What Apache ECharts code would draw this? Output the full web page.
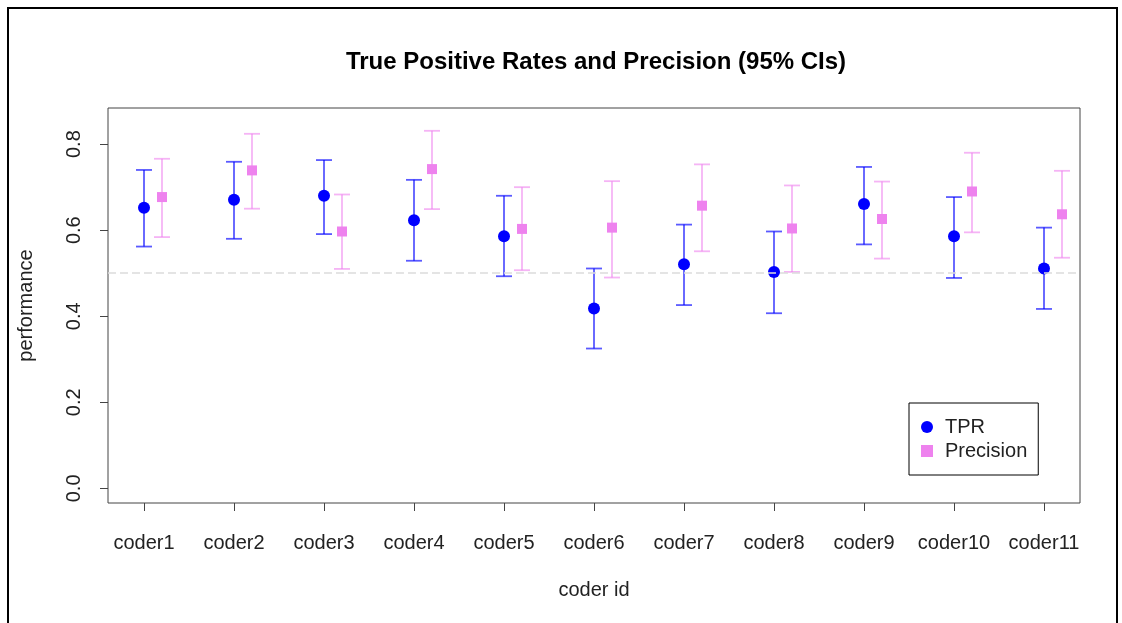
<!DOCTYPE html>
<html>
<head>
<meta charset="utf-8">
<title>True Positive Rates and Precision</title>
<script src="https://cdn.jsdelivr.net/npm/echarts@6/dist/echarts.min.js"></script>
<style>
  html, body { margin: 0; padding: 0; background: #fff; }
  #chart { width: 1122px; height: 623px; }
</style>
</head>
<body>
<div id="chart"></div>
<script>
// coder ids on the x axis
var categories = ['coder1', 'coder2', 'coder3', 'coder4', 'coder5', 'coder6',
  'coder7', 'coder8', 'coder9', 'coder10', 'coder11'];

// true positive rate with 95% CI
var tprMean = [0.652, 0.671, 0.680, 0.623, 0.586, 0.418, 0.521, 0.503, 0.661, 0.586, 0.511];
var tprLow  = [0.562, 0.580, 0.591, 0.529, 0.493, 0.325, 0.426, 0.407, 0.567, 0.489, 0.417];
var tprHigh = [0.740, 0.759, 0.763, 0.717, 0.680, 0.511, 0.613, 0.597, 0.747, 0.677, 0.606];

// precision with 95% CI
var precMean = [0.677, 0.739, 0.597, 0.742, 0.603, 0.606, 0.657, 0.604, 0.626, 0.690, 0.637];
var precLow  = [0.584, 0.650, 0.510, 0.649, 0.507, 0.490, 0.551, 0.503, 0.534, 0.595, 0.536];
var precHigh = [0.766, 0.824, 0.683, 0.831, 0.700, 0.714, 0.753, 0.704, 0.713, 0.780, 0.738];

var yTicks = [0, 0.2, 0.4, 0.6, 0.8];
var refLine = 0.5;

var FONT = '"Liberation Sans", Arial, sans-serif';
var precShift = 0.2; // precision drawn a bit right of the coder position

var xTicks = categories.map(function (c, i) { return i + 1; });

function points(mean, shift) {
  return mean.map(function (v, i) { return [i + 1 + shift, v]; });
}
function bars(low, high, shift) {
  return low.map(function (v, i) { return [i + 1 + shift, v, high[i]]; });
}

// error bar: vertical line plus two caps
function renderBar(color) {
  return function (params, api) {
    var lo = api.coord([api.value(0), api.value(1)]);
    var hi = api.coord([api.value(0), api.value(2)]);
    var w = 8;
    var style = { stroke: color, lineWidth: 1.8 };
    return {
      type: 'group',
      children: [
        { type: 'line', shape: { x1: lo[0], y1: lo[1], x2: hi[0], y2: hi[1] }, style: style },
        { type: 'line', shape: { x1: lo[0] - w, y1: lo[1], x2: lo[0] + w, y2: lo[1] }, style: style },
        { type: 'line', shape: { x1: hi[0] - w, y1: hi[1], x2: hi[0] + w, y2: hi[1] }, style: style }
      ]
    };
  };
}

var chart = echarts.init(document.getElementById('chart'));

var option = {
  animation: false,
  backgroundColor: '#fff',
  textStyle: { fontFamily: FONT },
  title: {
    text: 'True Positive Rates and Precision (95% CIs)',
    left: 591,
    top: 45,
    textAlign: 'center',
    textStyle: { fontFamily: FONT, fontSize: 24, fontWeight: 'bold', color: '#000' }
  },
  graphic: [{
    type: 'rect',
    shape: { x: 8, y: 8, width: 1109, height: 640 },
    style: { fill: 'none', stroke: '#000', lineWidth: 2 },
    silent: true
  }],
  legend: {
    orient: 'vertical',
    left: 909,
    top: 403,
    padding: [14, 11, 14, 12],
    itemGap: 4,
    itemWidth: 12,
    itemHeight: 12,
    borderColor: '#000',
    borderWidth: 1,
    textStyle: { fontFamily: FONT, fontSize: 20, color: '#222', padding: [0, 0, 0, 7] },
    data: [
      { name: 'TPR', icon: 'circle' },
      { name: 'Precision', icon: 'rect' }
    ]
  },
  grid: {
    left: 108,
    right: 42,
    top: 108,
    bottom: 120,
    show: true,
    borderColor: '#444',
    borderWidth: 1
  },
  xAxis: {
    type: 'value',
    min: 0.6,
    max: 11.4,
    name: 'coder id',
    nameLocation: 'middle',
    nameGap: 77,
    nameTextStyle: { fontFamily: FONT, fontSize: 20, color: '#222' },
    splitLine: { show: false },
    axisLine: { show: false, onZero: false },
    axisTick: { show: true, length: 8, customValues: xTicks, lineStyle: { color: '#444' } },
    axisLabel: {
      customValues: xTicks,
      margin: 30,
      fontFamily: FONT,
      fontSize: 20,
      color: '#222',
      formatter: function (v) { return categories[Math.round(v) - 1]; }
    }
  },
  yAxis: {
    type: 'value',
    min: -0.034,
    max: 0.884,
    name: 'performance',
    nameLocation: 'middle',
    nameGap: 72,
    nameTextStyle: { fontFamily: FONT, fontSize: 20, color: '#222' },
    splitLine: { show: false },
    axisLine: { show: false, onZero: false },
    axisTick: { show: true, length: 8, customValues: yTicks, lineStyle: { color: '#444' } },
    axisLabel: {
      customValues: yTicks,
      rotate: 90,
      margin: 24,
      fontFamily: FONT,
      fontSize: 20,
      color: '#222',
      formatter: function (v) { return v.toFixed(1); }
    }
  },
  series: [
    {
      name: 'TPR-ci',
      type: 'custom',
      renderItem: renderBar('rgba(0,0,255,0.65)'),
      data: bars(tprLow, tprHigh, 0),
      encode: { x: 0, y: [1, 2] },
      z: 2,
      markLine: {
        silent: true,
        symbol: 'none',
        label: { show: false },
        lineStyle: { color: '#dcdcdc', type: [8, 4], width: 1.5 },
        data: [{ yAxis: refLine }]
      }
    },
    {
      name: 'Precision-ci',
      type: 'custom',
      renderItem: renderBar('rgba(238,130,238,0.6)'),
      data: bars(precLow, precHigh, precShift),
      encode: { x: 0, y: [1, 2] },
      z: 2
    },
    {
      name: 'TPR',
      type: 'scatter',
      symbol: 'circle',
      symbolSize: 12,
      itemStyle: { color: '#0000ff', opacity: 1 },
      data: points(tprMean, 0),
      z: 3
    },
    {
      name: 'Precision',
      type: 'scatter',
      symbol: 'rect',
      symbolSize: 10,
      itemStyle: { color: '#ee82ee', opacity: 1 },
      data: points(precMean, precShift),
      z: 3
    }
  ]
};

chart.setOption(option);
</script>
</body>
</html>
